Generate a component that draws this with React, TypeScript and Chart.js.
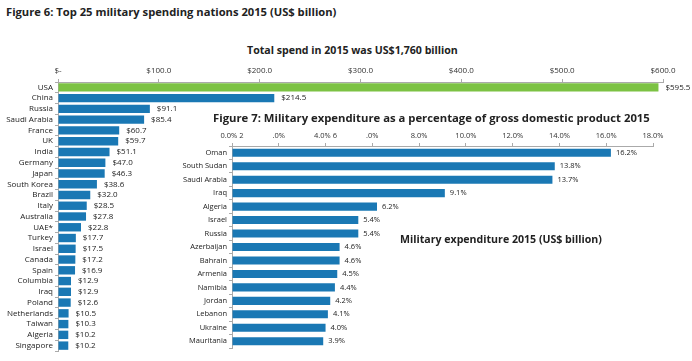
import React, { useEffect, useRef } from "react";
import { Chart, registerables } from "chart.js";

Chart.register(...registerables);

const spendCountries = [
  "USA", "China", "Russia", "Saudi Arabia", "France", "UK", "India", "Germany", "Japan",
  "South Korea", "Brazil", "Italy", "Australia", "UAE*", "Turkey", "Israel", "Canada",
  "Spain", "Columbia", "Iraq", "Poland", "Netherlands", "Taiwan", "Algeria", "Singapore",
];
const spendValues = [
  595.5, 214.5, 91.1, 85.4, 60.7, 59.7, 51.1, 47.0, 46.3, 38.6, 32.0, 28.5, 27.8, 22.8,
  17.7, 17.5, 17.2, 16.9, 12.9, 12.9, 12.6, 10.5, 10.3, 10.2, 10.2,
];
const gdpCountries = [
  "Oman", "South Sudan", "Saudi Arabia", "Iraq", "Algeria", "Israel", "Russia", "Azerbaijan",
  "Bahrain", "Armenia", "Namibia", "Jordan", "Lebanon", "Ukraine", "Mauritania",
];
const gdpValues = [16.2, 13.8, 13.7, 9.1, 6.2, 5.4, 5.4, 4.6, 4.6, 4.5, 4.4, 4.2, 4.1, 4.0, 3.9];
const gdpTickLabels = ["0.0% 2", ".0%", "4.0% 6", ".0%", "8.0%", "10.0%", "12.0%", "14.0%", "16.0%", "18.0%"];

const BLUE = "#1a78b4";
const GREEN = "#7cc243";
const FONT = "'Open Sans', 'Noto Sans', sans-serif";

function valueLabelPlugin(fmt: (v: number) => string, gap: number, size: number) {
  return {
    id: "valueLabels",
    afterDatasetsDraw(chart: any) {
      const ctx = chart.ctx;
      const meta = chart.getDatasetMeta(0);
      ctx.save();
      ctx.font = `${size}px ${FONT}`;
      ctx.fillStyle = "#222";
      ctx.textAlign = "left";
      ctx.textBaseline = "middle";
      meta.data.forEach((bar: any, i: number) => {
        const v = chart.data.datasets[0].data[i] as number;
        ctx.fillText(fmt(v), bar.x + gap, bar.y);
      });
      ctx.restore();
    },
  };
}

export default function App() {
  const mainRef = useRef<HTMLCanvasElement>(null);
  const insetRef = useRef<HTMLCanvasElement>(null);

  useEffect(() => {
    const main = new Chart(mainRef.current!, {
      type: "bar",
      data: {
        labels: spendCountries,
        datasets: [
          {
            data: spendValues,
            backgroundColor: spendCountries.map((_, i) => (i === 0 ? GREEN : BLUE)),
            categoryPercentage: 1,
            barPercentage: 0.78,
          },
        ],
      },
      options: {
        indexAxis: "y",
        animation: false,
        responsive: false,
        maintainAspectRatio: false,
        layout: { padding: { left: 0, right: 29, top: 0, bottom: 10 } },
        plugins: { legend: { display: false }, tooltip: { enabled: false } },
        scales: {
          x: {
            position: "top",
            min: 0,
            max: 600,
            afterFit: (s: any) => { s.height = 22; },
            border: { color: "#aaa", width: 1 },
            grid: { drawOnChartArea: false, tickLength: 3, color: "#aaa" },
            ticks: {
              stepSize: 100,
              padding: 3,
              color: "#333",
              font: { family: FONT, size: 8 },
              callback: (v: any) => (Number(v) === 0 ? "$-" : "$" + Number(v).toFixed(1)),
            },
          },
          y: {
            afterFit: (s: any) => { s.width = 58; },
            border: { color: "#aaa", width: 1 },
            grid: { drawOnChartArea: false, tickLength: 3, color: "#aaa", offset: true },
            ticks: { padding: 2, color: "#222", font: { family: FONT, size: 8 }, autoSkip: false },
          },
        },
      },
      plugins: [valueLabelPlugin((v) => "$" + v.toFixed(1), 7, 8)],
    });

    const inset = new Chart(insetRef.current!, {
      type: "bar",
      data: {
        labels: gdpCountries,
        datasets: [
          {
            data: gdpValues,
            backgroundColor: BLUE,
            categoryPercentage: 1,
            barPercentage: 0.6,
          },
        ],
      },
      options: {
        indexAxis: "y",
        animation: false,
        responsive: false,
        maintainAspectRatio: false,
        layout: { padding: { left: 0, right: 39, top: 0, bottom: 13 } },
        plugins: { legend: { display: false }, tooltip: { enabled: false } },
        scales: {
          x: {
            position: "top",
            min: 0,
            max: 18,
            afterFit: (s: any) => { s.height = 21; },
            border: { color: "#aaa", width: 1 },
            grid: { drawOnChartArea: false, tickLength: 3, color: "#aaa" },
            ticks: {
              stepSize: 2,
              padding: 3,
              color: "#333",
              font: { family: FONT, size: 7.5 },
              callback: (_v: any, i: number) => gdpTickLabels[i],
            },
          },
          y: {
            afterFit: (s: any) => { s.width = 82; },
            border: { color: "#aaa", width: 1 },
            grid: { drawOnChartArea: false, tickLength: 3, color: "#aaa", offset: true },
            ticks: { padding: 2, color: "#222", font: { family: FONT, size: 7.5 }, autoSkip: false },
          },
        },
      },
      plugins: [valueLabelPlugin((v) => v.toFixed(1) + "%", 5, 7.5)],
    });

    return () => {
      main.destroy();
      inset.destroy();
    };
  }, []);

  const title: React.CSSProperties = {
    position: "absolute",
    whiteSpace: "nowrap",
    fontFamily: FONT,
    fontWeight: 700,
    color: "#222",
    lineHeight: "14px",
  };

  return (
    <div style={{ position: "absolute", left: 0, top: 0, width: 692, height: 361, background: "#fff", overflow: "hidden" }}>
      <div style={{ ...title, left: 6, top: 5, fontSize: 11.2 }}>
        Figure 6: Top 25 military spending nations 2015 (US$ billion)
      </div>
      <div style={{ ...title, left: 247, top: 43, fontSize: 10.6 }}>
        Total spend in 2015 was US$1,760 billion
      </div>
      <canvas ref={mainRef} width={692} height={301} style={{ position: "absolute", left: 0, top: 60 }} />
      <div style={{ ...title, left: 213, top: 111, fontSize: 11.3 }}>
        Figure 7: Military expenditure as a percentage of gross domestic product 2015
      </div>
      <canvas ref={insetRef} width={542} height={236} style={{ position: "absolute", left: 150, top: 125 }} />
      <div style={{ ...title, left: 400, top: 232, fontSize: 10.6 }}>
        Military expenditure 2015 (US$ billion)
      </div>
    </div>
  );
}
